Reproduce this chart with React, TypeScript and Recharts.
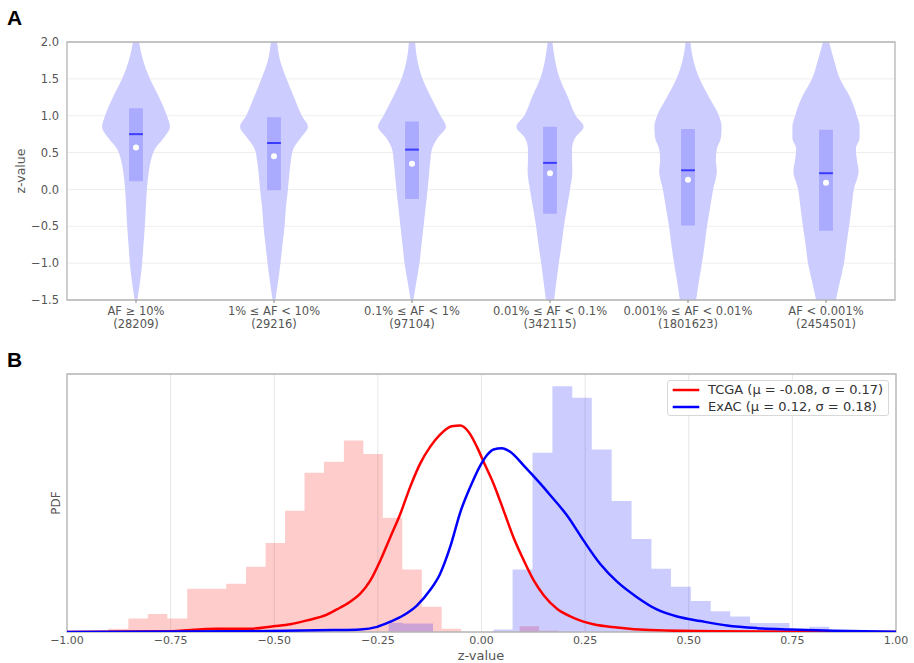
import React from 'react';
import {
  ComposedChart,
  Area,
  Line,
  XAxis,
  YAxis,
  CartesianGrid,
  ReferenceArea,
  ReferenceLine,
  ReferenceDot,
} from 'recharts';

// ---------------- Panel A data ----------------
const AF_BINS = [
  'AF ≥ 10%',
  '1% ≤ AF < 10%',
  '0.1% ≤ AF < 1%',
  '0.01% ≤ AF < 0.1%',
  '0.001% ≤ AF < 0.01%',
  'AF < 0.001%',
];
const AF_COUNTS = ['28209', '29216', '97104', '342115', '1801623', '2454501'];

const Z_LEVELS = [2.0, 1.75, 1.5, 1.25, 1.0, 0.85, 0.7, 0.55, 0.4, 0.25, 0.0, -0.25, -0.5, -0.75, -1.0, -1.25, -1.5];

// relative KDE density (max = 1) of each violin at Z_LEVELS
const DENS_AF1 = [0.09, 0.21, 0.41, 0.68, 0.91, 1.0, 0.82, 0.56, 0.44, 0.38, 0.32, 0.29, 0.26, 0.22, 0.18, 0.12, 0.04];
const DENS_AF2 = [0.09, 0.18, 0.37, 0.59, 0.82, 1.0, 0.79, 0.57, 0.5, 0.46, 0.41, 0.35, 0.31, 0.25, 0.19, 0.12, 0.04];
const DENS_AF3 = [0.09, 0.16, 0.31, 0.56, 0.84, 1.0, 0.76, 0.59, 0.54, 0.51, 0.46, 0.4, 0.34, 0.28, 0.22, 0.13, 0.04];
const DENS_AF4 = [0.07, 0.15, 0.29, 0.53, 0.76, 0.99, 0.74, 0.65, 0.65, 0.66, 0.59, 0.5, 0.41, 0.34, 0.26, 0.19, 0.12];
const DENS_AF5 = [0.07, 0.16, 0.34, 0.62, 0.91, 0.99, 0.97, 0.85, 0.82, 0.85, 0.74, 0.65, 0.56, 0.49, 0.41, 0.32, 0.24];
const DENS_AF6 = [0.09, 0.24, 0.41, 0.71, 0.91, 0.99, 0.99, 0.88, 0.91, 0.96, 0.82, 0.75, 0.68, 0.6, 0.53, 0.41, 0.29];
const VIOLIN_DENSITIES = [DENS_AF1, DENS_AF2, DENS_AF3, DENS_AF4, DENS_AF5, DENS_AF6];

const Q1 = [0.11, -0.01, -0.13, -0.33, -0.49, -0.56];
const Q3 = [1.1, 0.98, 0.92, 0.85, 0.82, 0.81];
const MEDIANS = [0.75, 0.63, 0.54, 0.36, 0.26, 0.22];
const MEANS = [0.57, 0.45, 0.35, 0.22, 0.13, 0.09];
const Z_TICKS_A = [-1.5, -1.0, -0.5, 0.0, 0.5, 1.0, 1.5, 2.0];

// ---------------- Panel B data ----------------
const TCGA_BIN_EDGES = [-0.9, -0.852, -0.805, -0.758, -0.71, -0.663, -0.616, -0.568, -0.521, -0.474, -0.427, -0.38, -0.332, -0.285, -0.238, -0.191, -0.144, -0.096, -0.049, 0.092, 0.139, 0.186];
const TCGA_BIN_PDF = [0.05, 0.21, 0.28, 0.21, 0.67, 0.67, 0.75, 1.01, 1.38, 1.88, 2.47, 2.64, 2.97, 2.76, 1.77, 0.97, 0.39, 0.05, 0, 0.09, 0.02, 0];
const EXAC_BIN_EDGES = [-0.224, -0.19, -0.117, 0.029, 0.075, 0.123, 0.171, 0.219, 0.266, 0.314, 0.362, 0.41, 0.457, 0.505, 0.553, 0.6, 0.648, 0.696, 0.743, 0.791, 0.839];
const EXAC_BIN_PDF = [0.145, 0.13, 0, 0.04, 0.97, 2.78, 3.81, 3.63, 2.83, 2.03, 1.44, 0.98, 0.7, 0.48, 0.32, 0.24, 0.14, 0.14, 0.03, 0.08, 0];

const TCGA_KDE_X = [-1.0, -0.759, -0.638, -0.558, -0.502, -0.461, -0.421, -0.373, -0.349, -0.317, -0.293, -0.268, -0.244, -0.22, -0.196, -0.172, -0.148, -0.124, -0.1, -0.072, -0.051, -0.031, -0.011, 0.005, 0.029, 0.053, 0.077, 0.102, 0.126, 0.15, 0.182, 0.222, 0.27, 0.327, 0.407, 0.568, 1.0];
const TCGA_KDE_Y = [0, 0.01, 0.05, 0.05, 0.09, 0.12, 0.18, 0.27, 0.35, 0.47, 0.59, 0.8, 1.11, 1.47, 1.83, 2.25, 2.61, 2.87, 3.06, 3.19, 3.2, 3.1, 2.87, 2.64, 2.3, 1.89, 1.47, 1.11, 0.8, 0.57, 0.36, 0.22, 0.12, 0.07, 0.03, 0.01, 0];
const EXAC_KDE_X = [-1.0, -0.6, -0.357, -0.293, -0.252, -0.22, -0.188, -0.156, -0.124, -0.1, -0.075, -0.051, -0.027, -0.003, 0.013, 0.029, 0.049, 0.07, 0.102, 0.142, 0.166, 0.206, 0.246, 0.287, 0.327, 0.375, 0.423, 0.472, 0.528, 0.592, 0.665, 0.745, 0.849, 1.0];
const EXAC_KDE_Y = [0, 0.01, 0.03, 0.04, 0.08, 0.16, 0.26, 0.41, 0.65, 0.9, 1.33, 1.86, 2.25, 2.58, 2.74, 2.83, 2.85, 2.79, 2.58, 2.3, 2.12, 1.81, 1.42, 1.05, 0.78, 0.54, 0.35, 0.24, 0.17, 0.1, 0.06, 0.04, 0.02, 0.005];
const Z_TICKS_B = [-1.0, -0.75, -0.5, -0.25, 0.0, 0.25, 0.5, 0.75, 1.0];

const SERIES_NAMES = ['TCGA (μ = -0.08, σ = 0.17)', 'ExAC (μ = 0.12, σ = 0.18)'];
const SERIES_COLORS = ['#ff0000', '#0000ff'];

// ---------------- derived tables ----------------
const VIOLIN_HALF_WIDTH = 0.246;
const CAT_CENTERS = AF_BINS.map((_, i) => i + 0.5);
const BOX_HALF = 0.05;

const violinRows = Z_LEVELS.map((z, i) => {
  const row: any = { z };
  VIOLIN_DENSITIES.forEach((d, k) => {
    const c = CAT_CENTERS[k];
    row['v' + k] = [c - d[i] * VIOLIN_HALF_WIDTH, c + d[i] * VIOLIN_HALF_WIDTH];
  });
  return row;
});

const zip = (xs: number[], ys: number[]) => xs.map((x, i) => ({ x, y: ys[i] }));
const tcgaHist = zip(TCGA_BIN_EDGES, TCGA_BIN_PDF);
const exacHist = zip(EXAC_BIN_EDGES, EXAC_BIN_PDF);
const tcgaKde = zip(TCGA_KDE_X, TCGA_KDE_Y);
const exacKde = zip(EXAC_KDE_X, EXAC_KDE_Y);

const FONT = '"DejaVu Sans", Verdana, sans-serif';
const TICK_COLOR = '#555555';
const fmt = (d: number) => (v: number) => v.toFixed(d).replace('-', '\u2212');

function CatTick(props: any) {
  const { x, y, payload } = props;
  const i = Math.round(payload.value - 0.5);
  return (
    <g>
      <text x={x} y={y + 9.7} textAnchor="middle" fontSize={11.5} fill={TICK_COLOR} fontFamily={FONT}>
        {AF_BINS[i]}
      </text>
      <text x={x} y={y + 22.5} textAnchor="middle" fontSize={11.5} fill={TICK_COLOR} fontFamily={FONT}>
        ({AF_COUNTS[i]})
      </text>
    </g>
  );
}

export default function App() {
  return (
    <div style={{ position: 'absolute', left: 0, top: 0, width: 914, height: 663, background: '#fff', fontFamily: FONT }}>
      <div style={{ position: 'absolute', left: 0, top: 0 }}>
        <ComposedChart
          width={914}
          height={340}
          layout="vertical"
          data={violinRows}
          margin={{ top: 42, right: 19, bottom: 0, left: 0 }}
        >
          <CartesianGrid vertical={false} stroke="#eeeeee" />
          <XAxis
            type="number"
            domain={[0, 6]}
            ticks={CAT_CENTERS}
            interval={0}
            tick={<CatTick />}
            height={40}
            axisLine={false}
            tickLine={{ stroke: '#888' }}
            tickSize={3}
            tickMargin={2}
            allowDataOverflow
          />
          <YAxis
            type="number"
            dataKey="z"
            domain={[-1.5, 2]}
            ticks={Z_TICKS_A}
            interval={0}
            reversed
            tickFormatter={fmt(1)}
            width={67}
            axisLine={false}
            tickLine={false}
            tick={{ fontSize: 11.5, fill: TICK_COLOR, fontFamily: FONT }}
            allowDataOverflow
          />
          {AF_BINS.map((_, k) => (
            <Area
              key={'v' + k}
              dataKey={'v' + k}
              type="monotone"
              fill="#ccccff"
              fillOpacity={1}
              stroke="none"
              dot={false}
              activeDot={false}
              isAnimationActive={false}
            />
          ))}
          {CAT_CENTERS.map((c, k) => (
            <ReferenceArea
              key={'box' + k}
              x1={c - BOX_HALF}
              x2={c + BOX_HALF}
              y1={Q1[k]}
              y2={Q3[k]}
              fill="#aaaaff"
              fillOpacity={1}
              stroke="none"
            />
          ))}
          {CAT_CENTERS.map((c, k) => (
            <ReferenceLine
              key={'med' + k}
              segment={[
                { x: c - BOX_HALF, y: MEDIANS[k] },
                { x: c + BOX_HALF, y: MEDIANS[k] },
              ]}
              stroke="#3c3cff"
              strokeWidth={2}
            />
          ))}
          {CAT_CENTERS.map((c, k) => (
            <ReferenceDot key={'mean' + k} x={c} y={MEANS[k]} r={3} fill="#ffffff" stroke="none" />
          ))}
          <ReferenceArea x1={0} x2={6} y1={-1.5} y2={2} fill="none" stroke="#b4b4b4" strokeWidth={1.3} />
        </ComposedChart>
      </div>

      <div style={{ position: 'absolute', left: 0, top: 340 }}>
        <ComposedChart width={914} height={323} margin={{ top: 34, right: 18, bottom: 0, left: 0 }}>
          <CartesianGrid horizontal={false} stroke="#e6e6e6" />
          <XAxis
            type="number"
            dataKey="x"
            domain={[-1, 1]}
            ticks={Z_TICKS_B}
            interval={0}
            tickFormatter={fmt(2)}
            height={31}
            axisLine={false}
            tickLine={false}
            tickSize={2}
            tickMargin={2}
            tick={{ fontSize: 11, fill: TICK_COLOR, fontFamily: FONT }}
            allowDataOverflow
          />
          <YAxis type="number" domain={[0, 4]} width={67} tick={false} axisLine={false} tickLine={false} allowDataOverflow />
          <Area
            data={tcgaHist}
            dataKey="y"
            type="stepAfter"
            fill={SERIES_COLORS[0]}
            fillOpacity={0.2}
            stroke="none"
            dot={false}
            activeDot={false}
            isAnimationActive={false}
          />
          <Area
            data={exacHist}
            dataKey="y"
            type="stepAfter"
            fill={SERIES_COLORS[1]}
            fillOpacity={0.2}
            stroke="none"
            dot={false}
            activeDot={false}
            isAnimationActive={false}
          />
          <Line
            data={tcgaKde}
            dataKey="y"
            name={SERIES_NAMES[0]}
            type="monotone"
            stroke={SERIES_COLORS[0]}
            strokeWidth={2.5}
            dot={false}
            activeDot={false}
            isAnimationActive={false}
          />
          <Line
            data={exacKde}
            dataKey="y"
            name={SERIES_NAMES[1]}
            type="monotone"
            stroke={SERIES_COLORS[1]}
            strokeWidth={2.5}
            dot={false}
            activeDot={false}
            isAnimationActive={false}
          />
          <ReferenceArea x1={-1} x2={1} y1={0} y2={4} fill="none" stroke="#b4b4b4" strokeWidth={1.3} />
        </ComposedChart>
      </div>

      {/* Legend */}
      <div
        style={{
          position: 'absolute',
          left: 667,
          top: 380,
          width: 222,
          height: 36,
          boxSizing: 'border-box',
          border: '1px solid #d8d8d8',
          borderRadius: 3,
          background: 'rgba(255,255,255,0.85)',
        }}
      >
        {SERIES_NAMES.map((name, i) => (
          <div key={name} style={{ position: 'absolute', left: 0, top: i === 0 ? 1 : 17.7, height: 16, width: 222 }}>
            <svg width={30} height={16} style={{ position: 'absolute', left: 3, top: 0 }}>
              <line x1={1.7} x2={28.3} y1={8} y2={8} stroke={SERIES_COLORS[i]} strokeWidth={2.5} />
            </svg>
            <span
              style={{
                position: 'absolute',
                left: 40,
                top: 0,
                lineHeight: '16px',
                fontSize: 13,
                color: '#333',
                whiteSpace: 'nowrap',
                fontFamily: FONT,
              }}
            >
              {name}
            </span>
          </div>
        ))}
      </div>

      {/* Panel letters and axis titles */}
      <svg width={914} height={663} style={{ position: 'absolute', left: 0, top: 0, pointerEvents: 'none' }}>
        <text x={7} y={25} fontSize={21} fontWeight="bold" fontFamily='"Liberation Sans", Arial, sans-serif' fill="#000">
          A
        </text>
        <text x={7} y={367} fontSize={21} fontWeight="bold" fontFamily='"Liberation Sans", Arial, sans-serif' fill="#000">
          B
        </text>
        <text
          x={20}
          y={171}
          transform="rotate(-90 20 171)"
          textAnchor="middle"
          dominantBaseline="central"
          fontSize={12.5}
          fill={TICK_COLOR}
          fontFamily={FONT}
        >
          z-value
        </text>
        <text
          x={56}
          y={503}
          transform="rotate(-90 56 503)"
          textAnchor="middle"
          dominantBaseline="central"
          fontSize={12}
          fill={TICK_COLOR}
          fontFamily={FONT}
        >
          PDF
        </text>
        <text x={481} y={659.5} textAnchor="middle" fontSize={13} fill={TICK_COLOR} fontFamily={FONT}>
          z-value
        </text>
      </svg>
    </div>
  );
}
